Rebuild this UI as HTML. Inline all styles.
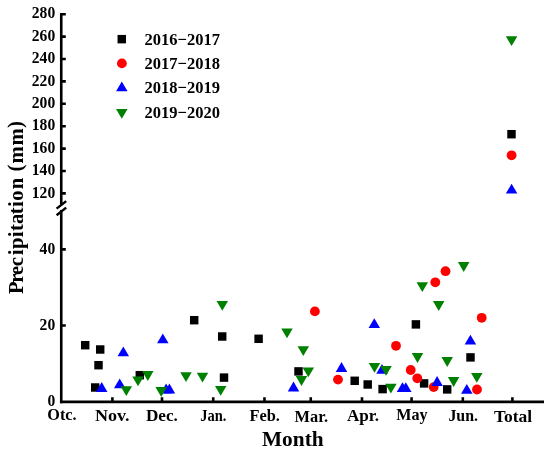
<!DOCTYPE html>
<html lang="en">
<head>
<meta charset="utf-8">
<title>Precipitation by month</title>
<style>
html,body{margin:0;padding:0;background:#fff;}
body{width:550px;height:452px;overflow:hidden;}
svg{display:block;}
text{font-family:"Liberation Serif","DejaVu Serif",serif;font-weight:bold;fill:#000;}
.t{font-size:16.8px;}
.x{font-size:17.2px;}
.a{font-size:21.5px;}
</style>
</head>
<body>
<svg width="550" height="452" viewBox="0 0 550 452">
<rect x="0" y="0" width="550" height="452" fill="#fff"/>
<g stroke="#000" stroke-width="2.6" fill="none" stroke-linecap="butt">
<path d="M61.25 13 V204.6 M61.25 210 V403.15"/>
<path d="M59.95 401.85 H544"/>
<path d="M56.6 208.6 L66.2 201.1 M56.6 215.2 L66.2 207.6" stroke-width="2.4"/>
<path d="M61.25 14.2 H65.8 M61.25 36.6 H65.8 M61.25 59 H65.8 M61.25 81.4 H65.8 M61.25 103.8 H65.8 M61.25 126.2 H65.8 M61.25 148.6 H65.8 M61.25 171 H65.8 M61.25 193.4 H65.8 M61.25 249.4 H65.8 M61.25 325.5 H65.8"/>
<path d="M112.4 401.85 V397.3 M161.99 401.85 V397.3 M213.23 401.85 V397.3 M264.47 401.85 V397.3 M310.75 401.85 V397.3 M361.99 401.85 V397.3 M411.57 401.85 V397.3 M462.81 401.85 V397.3 M512.4 401.85 V397.3"/>
</g>
<g class="t" text-anchor="end">
<text x="55.2" y="18.3" textLength="23.4" lengthAdjust="spacingAndGlyphs">280</text>
<text x="55.2" y="40.7" textLength="23.4" lengthAdjust="spacingAndGlyphs">260</text>
<text x="55.2" y="63.1" textLength="23.4" lengthAdjust="spacingAndGlyphs">240</text>
<text x="55.2" y="85.5" textLength="23.4" lengthAdjust="spacingAndGlyphs">220</text>
<text x="55.2" y="107.9" textLength="23.4" lengthAdjust="spacingAndGlyphs">200</text>
<text x="55.2" y="130.3" textLength="23.4" lengthAdjust="spacingAndGlyphs">180</text>
<text x="55.2" y="152.7" textLength="23.4" lengthAdjust="spacingAndGlyphs">160</text>
<text x="55.2" y="175.1" textLength="23.4" lengthAdjust="spacingAndGlyphs">140</text>
<text x="55.2" y="197.5" textLength="23.4" lengthAdjust="spacingAndGlyphs">120</text>
<text x="55.2" y="253.5" textLength="15.6" lengthAdjust="spacingAndGlyphs">40</text>
<text x="55.2" y="329.6" textLength="15.6" lengthAdjust="spacingAndGlyphs">20</text>
<text x="55.2" y="405.95" textLength="7.8" lengthAdjust="spacingAndGlyphs">0</text>
</g>
<g class="x" text-anchor="middle">
<text x="62" y="420.4" textLength="29.3" lengthAdjust="spacingAndGlyphs">Otc.</text>
<text x="112.2" y="420.8" textLength="34.6" lengthAdjust="spacingAndGlyphs">Nov.</text>
<text x="161.9" y="420.8" textLength="31.9" lengthAdjust="spacingAndGlyphs">Dec.</text>
<text x="213.4" y="420.8" textLength="26.2" lengthAdjust="spacingAndGlyphs">Jan.</text>
<text x="264.7" y="420.8" textLength="30.5" lengthAdjust="spacingAndGlyphs">Feb.</text>
<text x="311.3" y="421.7" textLength="33.5" lengthAdjust="spacingAndGlyphs">Mar.</text>
<text x="363" y="421.1" textLength="32.2" lengthAdjust="spacingAndGlyphs">Apr.</text>
<text x="412" y="420.4" textLength="31.3" lengthAdjust="spacingAndGlyphs">May</text>
<text x="463.2" y="421.1" textLength="29.6" lengthAdjust="spacingAndGlyphs">Jun.</text>
<text x="513" y="421.7" textLength="38.2" lengthAdjust="spacingAndGlyphs">Total</text>
</g>
<text class="a" x="292.8" y="445.9" text-anchor="middle" textLength="61.6" lengthAdjust="spacingAndGlyphs">Month</text>
<text class="a" transform="translate(23.2 293.5) rotate(-90) scale(0.96 1)" x="-0.6 11.2 19.4 28.3 39.8 46.3 58.7 65.1 72.4 82.6 90.1 96.6 108.5 121.3 127.1 135.4 154.1 172.3" dy="0 0 0 0 0 0 0 0 0 0 0 0 0 0 -1 1 0 -1">Precipitation (mm)</text>
<g class="t">
<text x="144.5" y="45.1" textLength="75.4" lengthAdjust="spacingAndGlyphs">2016−2017</text>
<text x="144.5" y="69.2" textLength="75.4" lengthAdjust="spacingAndGlyphs">2017−2018</text>
<text x="144.5" y="93.4" textLength="75.4" lengthAdjust="spacingAndGlyphs">2018−2019</text>
<text x="144.5" y="118" textLength="75.4" lengthAdjust="spacingAndGlyphs">2019−2020</text>
</g>
<g fill="#000"><rect x="117.53" y="34.92" width="8.45" height="8.45"/><rect x="80.98" y="340.97" width="8.45" height="8.45"/><rect x="95.98" y="345.27" width="8.45" height="8.45"/><rect x="94.28" y="360.97" width="8.45" height="8.45"/><rect x="90.98" y="383.27" width="8.45" height="8.45"/><rect x="135.58" y="370.97" width="8.45" height="8.45"/><rect x="219.78" y="373.38" width="8.45" height="8.45"/><rect x="189.97" y="315.97" width="8.45" height="8.45"/><rect x="217.97" y="332.27" width="8.45" height="8.45"/><rect x="254.38" y="334.57" width="8.45" height="8.45"/><rect x="294.27" y="367.17" width="8.45" height="8.45"/><rect x="350.47" y="376.57" width="8.45" height="8.45"/><rect x="363.47" y="380.27" width="8.45" height="8.45"/><rect x="411.67" y="320.17" width="8.45" height="8.45"/><rect x="378.38" y="384.88" width="8.45" height="8.45"/><rect x="419.88" y="379.17" width="8.45" height="8.45"/><rect x="442.97" y="385.17" width="8.45" height="8.45"/><rect x="466.27" y="353.17" width="8.45" height="8.45"/><rect x="507.27" y="129.97" width="8.45" height="8.45"/></g>
<g fill="#ff0000"><circle cx="121.9" cy="63.4" r="4.9"/><circle cx="314.9" cy="311.4" r="4.9"/><circle cx="338" cy="379.6" r="4.9"/><circle cx="396" cy="345.8" r="4.9"/><circle cx="410.7" cy="370" r="4.9"/><circle cx="417.3" cy="378.3" r="4.9"/><circle cx="433.7" cy="387.1" r="4.9"/><circle cx="445.5" cy="271.2" r="4.9"/><circle cx="435.3" cy="282.3" r="4.9"/><circle cx="481.7" cy="317.8" r="4.9"/><circle cx="477" cy="389.5" r="4.9"/><circle cx="511.6" cy="155.3" r="4.9"/></g>
<g fill="#0000ff"><polygon points="121.8,81.48 127.55,91.33 116.05,91.33"/><polygon points="123.3,346.38 129.05,356.23 117.55,356.23"/><polygon points="162.8,333.38 168.55,343.23 157.05,343.23"/><polygon points="101.7,382.07 107.45,391.93 95.95,391.93"/><polygon points="119.7,378.38 125.45,388.23 113.95,388.23"/><polygon points="166.1,383.57 171.85,393.43 160.35,393.43"/><polygon points="169.4,383.57 175.15,393.43 163.65,393.43"/><polygon points="293.5,381.57 299.25,391.43 287.75,391.43"/><polygon points="341.5,362.07 347.25,371.93 335.75,371.93"/><polygon points="374.3,318.18 380.05,328.03 368.55,328.03"/><polygon points="382,363.88 387.75,373.73 376.25,373.73"/><polygon points="402.5,382.27 408.25,392.12 396.75,392.12"/><polygon points="405.8,382.27 411.55,392.12 400.05,392.12"/><polygon points="437.1,376.07 442.85,385.93 431.35,385.93"/><polygon points="470.4,334.77 476.15,344.62 464.65,344.62"/><polygon points="466.8,383.88 472.55,393.73 461.05,393.73"/><polygon points="511.6,183.77 517.35,193.62 505.85,193.62"/></g>
<g fill="#008000"><polygon points="121.8,118.77 127.55,108.92 116.05,108.92"/><polygon points="126.3,396.12 132.05,386.27 120.55,386.27"/><polygon points="138,386.23 143.75,376.38 132.25,376.38"/><polygon points="147.8,380.93 153.55,371.07 142.05,371.07"/><polygon points="161.2,396.93 166.95,387.07 155.45,387.07"/><polygon points="186,382.03 191.75,372.18 180.25,372.18"/><polygon points="202.5,382.62 208.25,372.77 196.75,372.77"/><polygon points="220.7,395.73 226.45,385.88 214.95,385.88"/><polygon points="222.3,310.73 228.05,300.88 216.55,300.88"/><polygon points="287,338.23 292.75,328.38 281.25,328.38"/><polygon points="303.3,356.03 309.05,346.18 297.55,346.18"/><polygon points="308.3,377.23 314.05,367.38 302.55,367.38"/><polygon points="301.5,385.93 307.25,376.07 295.75,376.07"/><polygon points="417.5,362.93 423.25,353.07 411.75,353.07"/><polygon points="374.5,372.73 380.25,362.88 368.75,362.88"/><polygon points="386,375.82 391.75,365.97 380.25,365.97"/><polygon points="390.9,393.62 396.65,383.77 385.15,383.77"/><polygon points="463.7,271.93 469.45,262.07 457.95,262.07"/><polygon points="422.3,292.12 428.05,282.27 416.55,282.27"/><polygon points="438.7,310.93 444.45,301.07 432.95,301.07"/><polygon points="447.2,366.93 452.95,357.07 441.45,357.07"/><polygon points="476.8,382.82 482.55,372.97 471.05,372.97"/><polygon points="453.6,386.93 459.35,377.07 447.85,377.07"/><polygon points="511.6,46.12 517.35,36.28 505.85,36.28"/></g>
</svg>
</body>
</html>
